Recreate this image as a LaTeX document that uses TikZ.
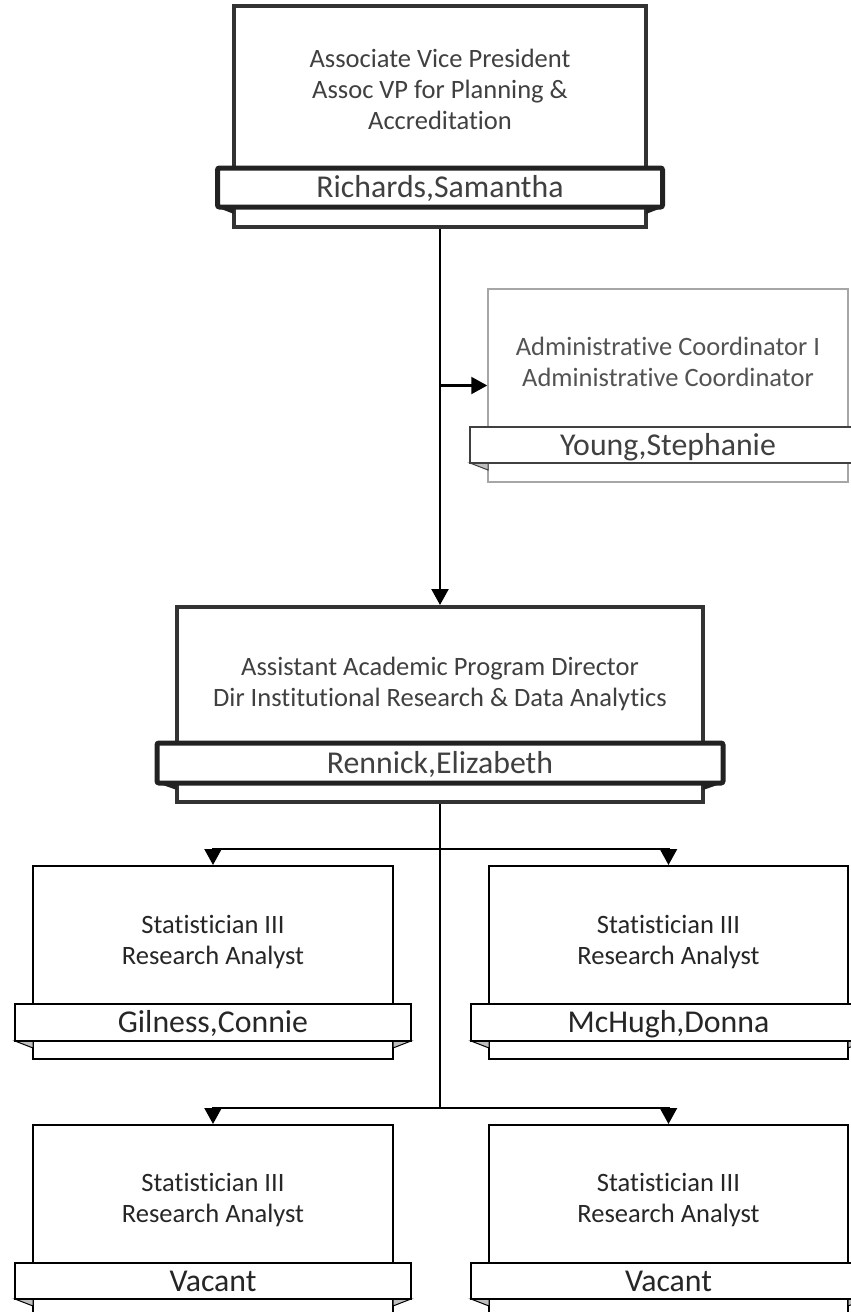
\documentclass[tikz,border=0pt]{standalone}
\usepackage{fontspec}
\setmainfont{Carlito}[Ligatures={NoCommon,NoContextual}]
\usetikzlibrary{arrows.meta}
\definecolor{heavy}{HTML}{333333}
\definecolor{bandheavy}{HTML}{222222}
\definecolor{lightline}{HTML}{A6A6A6}
\definecolor{txtgray}{HTML}{404040}
\definecolor{foldgray}{HTML}{BFBFBF}
\tikzset{
  namefont/.style={font=\fontsize{31.8}{36}\selectfont, text height=20pt, text depth=0pt},
  heavybox/.style={draw=heavy, line width=4pt, fill=white, inner sep=0pt},
  heavyband/.style={draw=bandheavy, line width=5pt, fill=white, rounded corners=2pt, inner sep=0pt, namefont, text=txtgray},
  lightbox/.style={draw=lightline, line width=1.5pt, fill=white, inner sep=0pt},
  lightband/.style={draw=txtgray, line width=1.5pt, fill=white, inner sep=0pt, namefont, text=txtgray},
  thinbox/.style={draw=black, line width=2pt, fill=white, inner sep=0pt},
  thinband/.style={draw=black, line width=2pt, fill=white, inner sep=0pt, namefont, text=black!85},
  titletext/.style={align=center, inner sep=0pt, font=\fontsize{26.5}{31}\selectfont, text=txtgray},
  stattext/.style={align=center, inner sep=0pt, font=\fontsize{26.5}{31}\selectfont, text=black!85},
  conn/.style={draw=black, line width=2.2pt},
  arr/.style={conn, -{Triangle[length=16pt,width=17pt]}},
}
\begin{document}
\begin{tikzpicture}[x=1pt,y=-1pt]
\useasboundingbox (0,0) rectangle (851,1312);
\clip (0,0) rectangle (851,1312);

% ---------- top: Associate VP ----------
\node[heavybox, minimum width=412pt, minimum height=221pt] (avp) at (440,116.5) {};
\node[titletext] (avpT) at (440,89) {Associate Vice President\\Assoc VP for Planning \&\\Accreditation};
\fill[bandheavy] (216,207) -- (234,207) -- (234,214) -- cycle;
\fill[bandheavy] (664,207) -- (646,207) -- (646,214) -- cycle;
\node[heavyband, minimum width=445pt, minimum height=39pt] (avpN) at (440,187.5) {Richards,Samantha};

% ---------- admin coordinator ----------
\node[lightbox, minimum width=360pt, minimum height=193pt] (adm) at (668,385.5) {};
\node[titletext, text=txtgray!90] (admT) at (668,362) {Administrative Coordinator I\\Administrative Coordinator};
\draw[txtgray, line width=1pt, fill=foldgray] (470,463) -- (488,463) -- (488,470) -- cycle;
\node[lightband, minimum width=396pt, minimum height=36pt] (admN) at (668,445) {Young,Stephanie};

% ---------- director ----------
\node[heavybox, minimum width=526pt, minimum height=195pt] (dir) at (440,704.5) {};
\node[titletext] (dirT) at (440,684) {Assistant Academic Program Director\\Dir Institutional Research \& Data Analytics};
\fill[bandheavy] (157,783) -- (177,783) -- (177,790) -- cycle;
\fill[bandheavy] (723,783) -- (703,783) -- (703,790) -- cycle;
\node[heavyband, minimum width=566pt, minimum height=40pt] (dirN) at (440,763) {Rennick,Elizabeth};

% ---------- statisticians row 1 ----------
\node[thinbox, minimum width=360pt, minimum height=193pt] (s1) at (213,962.5) {};
\node[stattext] (s1T) at (213,942) {Statistician III\\Research Analyst};
\draw[black, line width=1pt, fill=foldgray] (15,1041) -- (33,1041) -- (33,1048) -- cycle;
\draw[black, line width=1pt, fill=foldgray] (411,1041) -- (393,1041) -- (393,1048) -- cycle;
\node[thinband, minimum width=396pt, minimum height=37pt] (s1N) at (213,1022.5) {Gilness,Connie};

\node[thinbox, minimum width=359pt, minimum height=193pt] (s2) at (668.5,962.5) {};
\node[stattext] (s2T) at (668.5,942) {Statistician III\\Research Analyst};
\draw[black, line width=1pt, fill=foldgray] (471,1041) -- (489,1041) -- (489,1048) -- cycle;
\draw[black, line width=1pt, fill=foldgray] (866,1041) -- (848,1041) -- (848,1048) -- cycle;
\node[thinband, minimum width=395pt, minimum height=37pt] (s2N) at (668.5,1022.5) {McHugh,Donna};

% ---------- statisticians row 2 ----------
\node[thinbox, minimum width=360pt, minimum height=200pt] (s3) at (213,1225) {};
\node[stattext] (s3T) at (213,1200) {Statistician III\\Research Analyst};
\draw[black, line width=1pt, fill=foldgray] (15,1299) -- (33,1299) -- (33,1306) -- cycle;
\draw[black, line width=1pt, fill=foldgray] (411,1299) -- (393,1299) -- (393,1306) -- cycle;
\node[thinband, minimum width=396pt, minimum height=36pt] (s3N) at (213,1281) {Vacant};

\node[thinbox, minimum width=359pt, minimum height=200pt] (s4) at (668.5,1225) {};
\node[stattext] (s4T) at (668.5,1200) {Statistician III\\Research Analyst};
\draw[black, line width=1pt, fill=foldgray] (471,1299) -- (489,1299) -- (489,1306) -- cycle;
\draw[black, line width=1pt, fill=foldgray] (866,1299) -- (848,1299) -- (848,1306) -- cycle;
\node[thinband, minimum width=395pt, minimum height=36pt] (s4N) at (668.5,1281) {Vacant};

% ---------- connectors ----------
\coordinate (jA) at (440,385.5);
\coordinate (j1) at (440,849);
\coordinate (j2) at (440,1108);
\draw[arr] (avp.south) -- (dir.north);
\draw[arr] (jA) -- (adm.west);
\draw[conn] (dir.south) -- (j2);
\draw[arr] (j1) -| (s1.north);
\draw[arr] (j1) -| (s2.north);
\draw[arr] (j2) -| (s3.north);
\draw[arr] (j2) -| (s4.north);
\end{tikzpicture}
\end{document}
